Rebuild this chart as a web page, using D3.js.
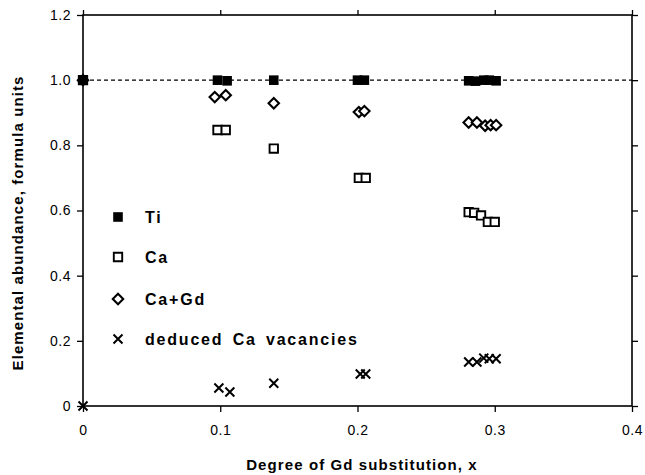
<!DOCTYPE html>
<html>
<head>
<meta charset="utf-8">
<script src="https://cdn.jsdelivr.net/npm/d3@7"></script>
<style>
  body { margin: 0; background: #fff; }
  svg { font-family: "Liberation Sans", Arial, sans-serif; }
</style>
</head>
<body>
<svg id="chart"></svg>
<script>
// values
const tiX = [0, 0.098, 0.105, 0.139, 0.200, 0.205, 0.281, 0.286, 0.292, 0.296, 0.301];
const tiY = [1.0, 1.0, 0.998, 1.0, 1.0, 1.0, 0.998, 0.997, 1.0, 1.0, 0.998];

const caX = [0, 0.098, 0.104, 0.139, 0.201, 0.206, 0.281, 0.285, 0.290, 0.295, 0.300];
const caY = [1.0, 0.847, 0.847, 0.790, 0.700, 0.700, 0.595, 0.593, 0.585, 0.565, 0.565];

const caGdX = [0, 0.096, 0.104, 0.139, 0.201, 0.205, 0.281, 0.287, 0.293, 0.297, 0.301];
const caGdY = [1.0, 0.948, 0.954, 0.929, 0.902, 0.905, 0.870, 0.870, 0.860, 0.862, 0.862];

const vacX = [0, 0.099, 0.107, 0.139, 0.202, 0.206, 0.281, 0.287, 0.292, 0.296, 0.301];
const vacY = [0, 0.055, 0.043, 0.070, 0.098, 0.098, 0.135, 0.135, 0.147, 0.145, 0.145];

const xTicks = [0, 0.1, 0.2, 0.3, 0.4];
const xTickLabels = ['0', '0.1', '0.2', '0.3', '0.4'];
const yTicks = [0, 0.2, 0.4, 0.6, 0.8, 1.0, 1.2];
const yTickLabels = ['0', '0.2', '0.4', '0.6', '0.8', '1.0', '1.2'];

const legendLabels = ['Ti', 'Ca', 'Ca+Gd', 'deduced Ca vacancies'];

const W = 645, H = 475;
const margin = { top: 15, right: 13, bottom: 69, left: 83 };
const width = W - margin.left - margin.right;
const height = H - margin.top - margin.bottom;

const svg = d3.select('#chart').attr('width', W).attr('height', H);
const g = svg.append('g').attr('transform', `translate(${margin.left},${margin.top})`);

const x = d3.scaleLinear().domain([0, 0.4]).range([0, width]);
const y = d3.scaleLinear().domain([0, 1.2]).range([height, 0]);

function styleAxis(sel) {
    sel.select('.domain').remove();
    sel.selectAll('line').attr('stroke', '#000').attr('stroke-width', 1.3);
    sel.selectAll('text').style('font-size', '14px').style('letter-spacing', '0.5px').attr('fill', '#000');
}

g.append('g')
    .attr('transform', `translate(0,${height})`)
    .call(d3.axisBottom(x).tickValues(xTicks).tickFormat((d, i) => xTickLabels[i]).tickSize(6).tickPadding(13))
    .call(styleAxis);

g.append('g')
    .call(d3.axisTop(x).tickValues(xTicks).tickFormat('').tickSize(5))
    .call(styleAxis);

g.append('g')
    .call(d3.axisLeft(y).tickValues(yTicks).tickFormat((d, i) => yTickLabels[i]).tickSize(6).tickPadding(6))
    .call(styleAxis);

g.append('g')
    .attr('transform', `translate(${width},0)`)
    .call(d3.axisRight(y).tickValues(yTicks).tickFormat('').tickSize(6))
    .call(styleAxis);

g.append('rect')
    .attr('width', width).attr('height', height)
    .attr('fill', 'none').attr('stroke', '#000').attr('stroke-width', 1.6);

// reference line at 1.0
g.append('line')
    .attr('x1', x(0)).attr('x2', x(0.4))
    .attr('y1', y(1.0)).attr('y2', y(1.0))
    .attr('stroke', '#000').attr('stroke-width', 1.4)
    .attr('stroke-dasharray', '4,3');

const pts = (xs, ys) => xs.map((v, i) => [v, ys[i]]);

const squarePath = s => `M${-s},${-s}h${2 * s}v${2 * s}h${-2 * s}z`;
const diamondPath = s => `M0,${-s}L${s},0L0,${s}L${-s},0z`;
const crossPath = s => `M${-s},${-s}L${s},${s}M${-s},${s}L${s},${-s}`;

function drawMarks(data, kind) {
    const sel = g.append('g').selectAll('path')
        .data(data)
        .enter().append('path')
        .attr('transform', d => `translate(${x(d[0])},${y(d[1])})`);
    styleMark(sel, kind);
}

function styleMark(sel, kind) {
    if (kind === 'ti') {
        sel.attr('d', squarePath(4.8)).attr('fill', '#000');
    } else if (kind === 'ca') {
        sel.attr('d', squarePath(4.2)).attr('fill', '#fff').attr('stroke', '#000').attr('stroke-width', 1.9);
    } else if (kind === 'cagd') {
        sel.attr('d', diamondPath(5.2)).attr('fill', '#fff').attr('stroke', '#000').attr('stroke-width', 2.1);
    } else {
        sel.attr('d', crossPath(4.5)).attr('fill', 'none').attr('stroke', '#000').attr('stroke-width', 2);
    }
}

drawMarks(pts(caX, caY), 'ca');
drawMarks(pts(caGdX, caGdY), 'cagd');
drawMarks(pts(tiX, tiY), 'ti');
drawMarks(pts(vacX, vacY), 'vac');

// legend
const legendKinds = ['ti', 'ca', 'cagd', 'vac'];
const legendY = [217, 257, 299, 339];
const legend = svg.append('g');
legendLabels.forEach((label, i) => {
    const m = legend.append('path').attr('transform', `translate(118,${legendY[i]})`);
    styleMark(m, legendKinds[i]);
    legend.append('text')
        .attr('x', 145).attr('y', legendY[i] + 6)
        .style('font-size', '16px').style('font-weight', 'bold')
        .style('letter-spacing', '1.8px').style('word-spacing', '3px')
        .text(label);
});

svg.append('text')
    .attr('x', 362).attr('y', 470)
    .attr('text-anchor', 'middle')
    .style('font-size', '15px').style('font-weight', 'bold')
    .style('letter-spacing', '1.1px')
    .text('Degree of Gd substitution, x');

svg.append('text')
    .attr('transform', `translate(23,223) rotate(-90)`)
    .attr('text-anchor', 'middle')
    .style('font-size', '15px').style('font-weight', 'bold')
    .style('letter-spacing', '1.1px')
    .text('Elemental abundance, formula units');
</script>
</body>
</html>
